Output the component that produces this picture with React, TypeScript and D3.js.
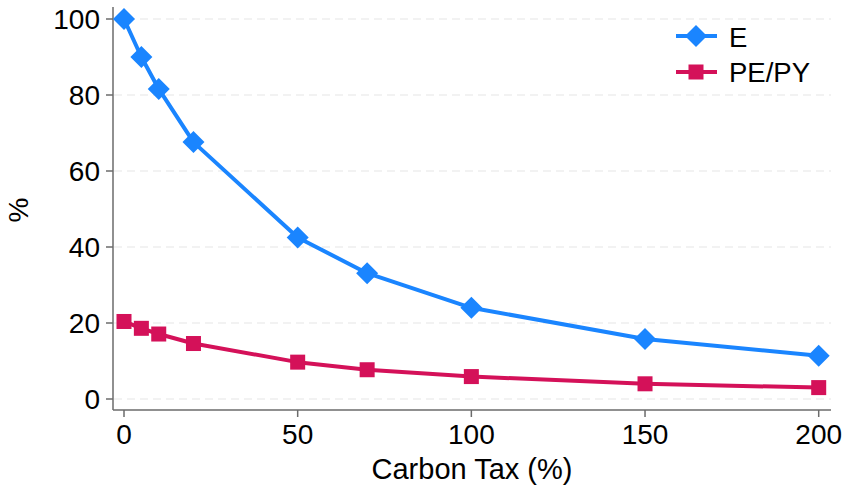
import React from "react";
import * as d3 from "d3";

const taxRates = [0, 5, 10, 20, 50, 70, 100, 150, 200];
const eValues = [100, 90, 81.6, 67.6, 42.5, 33.1, 24.0, 15.8, 11.4];
const pePyValues = [20.4, 18.6, 17.1, 14.6, 9.7, 7.7, 5.9, 4.0, 3.0];
const xTicks = [0, 50, 100, 150, 200];
const yTicks = [0, 20, 40, 60, 80, 100];
const seriesNames = ["E", "PE/PY"];

const W = 845;
const H = 486;
const BLUE = "#1A85FF";
const RED = "#D41159";
const FONT = "'Liberation Sans', Arial, Helvetica, sans-serif";
const AXIS = "#6b6b6b";

export default function App() {
  const x = d3.scaleLinear().domain([0, 200]).range([124, 818.7]);
  const y = d3.scaleLinear().domain([0, 100]).range([399, 19]);
  const line = d3
    .line<[number, number]>()
    .x((d) => x(d[0]))
    .y((d) => y(d[1]));
  const ePts: [number, number][] = taxRates.map((t, i) => [t, eValues[i]]);
  const pPts: [number, number][] = taxRates.map((t, i) => [t, pePyValues[i]]);
  const axisY = 410;
  const axisX = 113;
  const plotRight = 831;
  const dia = 11;
  const sq = 7.5;
  const diamond = (cx: number, cy: number) =>
    `M${cx},${cy - dia}L${cx + dia},${cy}L${cx},${cy + dia}L${cx - dia},${cy}Z`;

  return (
    <svg
      width={W}
      height={H}
      style={{ position: "absolute", left: 0, top: 0, background: "#fff" }}
      fontFamily={FONT}
    >
      <rect x={0} y={0} width={W} height={H} fill="#fff" />
      {yTicks.map((t) => (
        <line
          key={"g" + t}
          x1={axisX + 1}
          x2={plotRight}
          y1={y(t)}
          y2={y(t)}
          stroke="#e6e6e6"
          strokeWidth={1.2}
          strokeDasharray="8,5"
        />
      ))}
      <line x1={axisX} x2={axisX} y1={7} y2={axisY} stroke={AXIS} strokeWidth={1.5} />
      <line x1={axisX} x2={plotRight} y1={axisY} y2={axisY} stroke={AXIS} strokeWidth={1.5} />
      {yTicks.map((t) => (
        <g key={"yt" + t}>
          <line x1={106} x2={axisX} y1={y(t)} y2={y(t)} stroke={AXIS} strokeWidth={1.5} />
          <text
            x={100}
            y={y(t)}
            dy="0.36em"
            textAnchor="end"
            fontSize={28}
            fill="#000"
          >
            {t}
          </text>
        </g>
      ))}
      {xTicks.map((t) => (
        <g key={"xt" + t}>
          <line x1={x(t)} x2={x(t)} y1={axisY} y2={417} stroke={AXIS} strokeWidth={1.5} />
          <text x={x(t)} y={444} textAnchor="middle" fontSize={28} fill="#000">
            {t}
          </text>
        </g>
      ))}
      <text x={472} y={479} textAnchor="middle" fontSize={29} fill="#000">
        Carbon Tax (%)
      </text>
      <text
        transform={`translate(28,210) rotate(-90)`}
        textAnchor="middle"
        fontSize={28}
        fill="#000"
      >
        %
      </text>
      <path d={line(ePts) || ""} fill="none" stroke={BLUE} strokeWidth={4} strokeLinejoin="round" />
      <path d={line(pPts) || ""} fill="none" stroke={RED} strokeWidth={4} strokeLinejoin="round" />
      {ePts.map((p, i) => (
        <path key={"e" + i} d={diamond(x(p[0]), y(p[1]))} fill={BLUE} />
      ))}
      {pPts.map((p, i) => (
        <rect
          key={"p" + i}
          x={x(p[0]) - sq}
          y={y(p[1]) - sq}
          width={sq * 2}
          height={sq * 2}
          fill={RED}
        />
      ))}
      <g>
        <line x1={676} x2={717} y1={36} y2={36} stroke={BLUE} strokeWidth={4} />
        <path d={`M696,${36 - dia}L${696 + dia},36L696,${36 + dia}L${696 - dia},36Z`} fill={BLUE} />
        <text x={729} y={47} fontSize={27.5} fill="#000">
          {seriesNames[0]}
        </text>
        <line x1={676} x2={717} y1={72} y2={72} stroke={RED} strokeWidth={4} />
        <rect x={696 - sq} y={72 - sq} width={sq * 2} height={sq * 2} fill={RED} />
        <text x={729} y={81.5} fontSize={27.5} fill="#000">
          {seriesNames[1]}
        </text>
      </g>
    </svg>
  );
}
